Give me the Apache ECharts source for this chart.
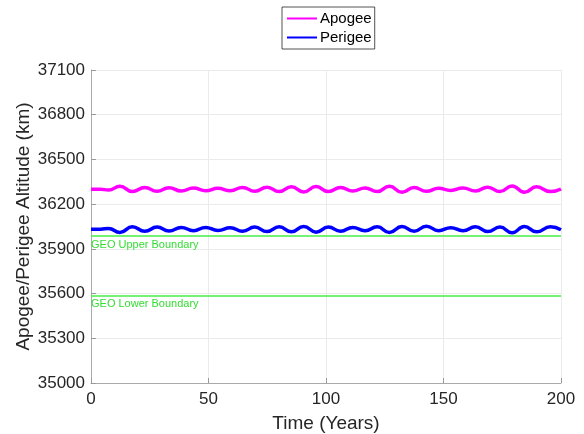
<!DOCTYPE html>
<html style="height: 100%">
   <head>
       <meta charset="utf-8">
   </head>
   <body style="height: 100%; margin: 0; background: #fff">
       <div id="container" style="width: 584px; height: 434px"></div>
       <script type="text/javascript" src="https://cdn.jsdelivr.net/npm/echarts@6/dist/echarts.min.js"></script>
       <script type="text/javascript">
// values: [year, km]
var apogee = [
    [0, 36300], [4, 36300], [7.5, 36295], [12.3, 36320], [17.6, 36284], [22.9, 36312],
    [28.1, 36286], [33.2, 36310], [38.4, 36288], [43.6, 36308], [48.8, 36290], [54.0, 36306],
    [59.3, 36290], [64.5, 36312], [69.7, 36286], [74.9, 36314], [80.1, 36284], [85.3, 36316],
    [90.5, 36282], [95.8, 36318], [101.0, 36284], [106.2, 36312], [111.4, 36288], [116.6, 36308],
    [121.8, 36284], [127.0, 36320], [132.3, 36280], [137.5, 36312], [142.7, 36286], [147.9, 36306],
    [153.1, 36292], [158.3, 36308], [163.6, 36288], [168.8, 36314], [174.0, 36284], [179.2, 36322],
    [184.4, 36280], [189.6, 36316], [195.5, 36284], [200, 36302]
];
var perigee = [
    [0, 36032], [4, 36032], [7.5, 36037], [12.3, 36010], [17.6, 36048], [22.9, 36018],
    [28.1, 36046], [33.2, 36020], [38.4, 36044], [43.6, 36022], [48.8, 36044], [54.0, 36024],
    [59.3, 36042], [64.5, 36018], [69.7, 36046], [74.9, 36016], [80.1, 36048], [85.3, 36014],
    [90.5, 36050], [95.8, 36012], [101.0, 36046], [106.2, 36018], [111.4, 36044], [116.6, 36022],
    [121.8, 36048], [127.0, 36010], [132.3, 36050], [137.5, 36018], [142.7, 36052], [147.9, 36022],
    [153.1, 36042], [158.3, 36022], [163.6, 36048], [168.8, 36016], [174.0, 36046], [179.2, 36008],
    [184.4, 36050], [189.6, 36014], [195.5, 36048], [200, 36028]
];
var geoUpper = 35986;
var geoLower = 35586;
var boundaryNames = ['GEO Upper Boundary', 'GEO Lower Boundary'];

var axisColor = '#262626';
var dom = document.getElementById("container");
var myChart = echarts.init(dom);
option = {
    backgroundColor: '#fff',
    animation: false,
    textStyle: { fontFamily: 'Liberation Sans, Arial, sans-serif' },
    legend: {
        data: ['Apogee', 'Perigee'],
        orient: 'vertical',
        left: 282,
        top: 7,
        padding: [4, 3, 4, 5],
        itemGap: 4,
        itemWidth: 30,
        itemHeight: 2,
        icon: 'path://M0,0 L30,0 L30,2 L0,2 Z',
        borderColor: '#262626',
        borderWidth: 0.8,
        textStyle: { color: '#000', fontSize: 15, padding: [0, 0, 0, -2] }
    },
    grid: { left: 91, right: 23, top: 70, bottom: 51, outerBoundsMode: 'none' },
    xAxis: {
        type: 'value',
        min: 0,
        max: 200,
        interval: 50,
        name: 'Time (Years)',
        nameLocation: 'middle',
        nameGap: 31,
        nameMoveOverlap: false,
        nameTextStyle: { fontSize: 19, color: axisColor },
        axisLine: { lineStyle: { color: '#aaaaaa', width: 1 } },
        axisTick: { inside: true, length: 5, lineStyle: { color: '#999' } },
        axisLabel: { fontSize: 17, color: axisColor, margin: 8 },
        splitLine: { show: true, lineStyle: { color: '#ebebeb' } }
    },
    yAxis: {
        type: 'value',
        min: 35000,
        max: 37100,
        interval: 300,
        name: 'Apogee/Perigee Altitude (km)',
        nameLocation: 'middle',
        nameGap: 58,
        nameMoveOverlap: false,
        nameTextStyle: { fontSize: 19, color: axisColor },
        axisLine: { show: true, lineStyle: { color: '#aaaaaa', width: 1 } },
        axisTick: { show: true, inside: true, length: 5, lineStyle: { color: '#999' } },
        axisLabel: {
            fontSize: 17, color: axisColor, margin: 6,
            formatter: function (v) { return String(v); }
        },
        splitLine: { show: true, lineStyle: { color: '#ebebeb' } }
    },
    series: [{
        name: 'Apogee',
        type: 'line',
        data: apogee,
        symbol: 'none',
        smooth: 0.5,
        color: '#ff00ff',
        lineStyle: { width: 3.5, color: '#ff00ff' },
        z: 3
    }, {
        name: 'Perigee',
        type: 'line',
        data: perigee,
        symbol: 'none',
        smooth: 0.5,
        color: '#0000ff',
        lineStyle: { width: 3.5, color: '#0000ff' },
        z: 3,
        markLine: {
            silent: true,
            symbol: 'none',
            lineStyle: { color: '#44ee44', width: 1.5, type: 'solid' },
            label: {
                position: 'insideStartBottom',
                color: '#33dd33',
                fontSize: 11,
                distance: [0, 3]
            },
            data: [
                { yAxis: geoUpper, label: { formatter: boundaryNames[0] } },
                { yAxis: geoLower, label: { formatter: boundaryNames[1] } }
            ]
        }
    }]
};
myChart.setOption(option);
       </script>
   </body>
</html>
